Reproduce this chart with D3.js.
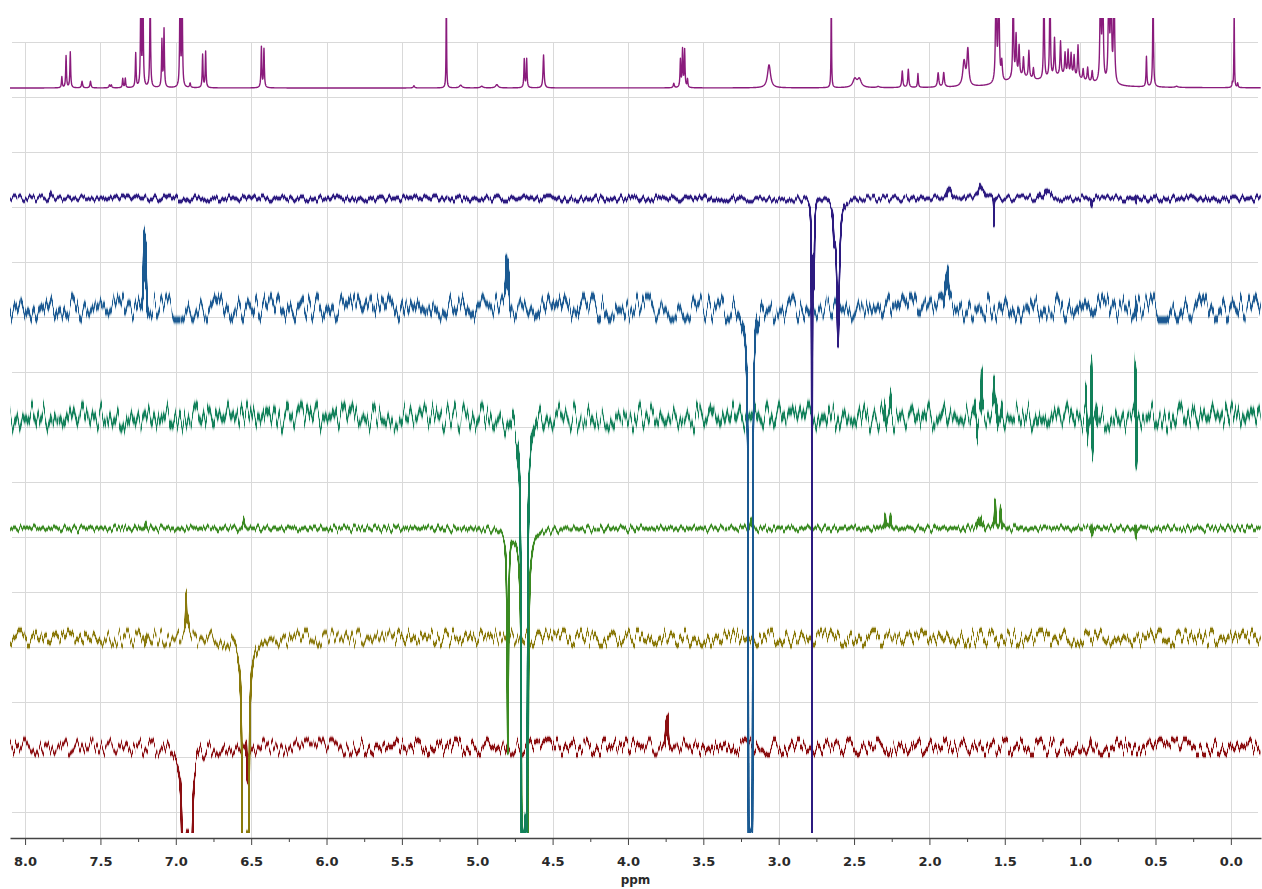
<!DOCTYPE html>
<html><head><meta charset="utf-8">
<script src="https://cdn.jsdelivr.net/npm/d3@7"></script>
<style>
html,body{margin:0;padding:0;background:#fff;}
svg{display:block;}
</style></head><body>
<svg id="chart" width="1262" height="889"></svg>
<script>
// ================= DATA =================
// x axis: chemical shift in ppm
const ppmTicks = [8.0,7.5,7.0,6.5,6.0,5.5,5.0,4.5,4.0,3.5,3.0,2.5,2.0,1.5,1.0,0.5,0.0];
const ppmMinorTicks = [7.75,7.25,6.75,6.25,5.75,5.25,4.75,4.25,3.75,3.25,2.75,2.25,1.75,1.25,0.75,0.25];
const axisTitle = "ppm";
// horizontal grid levels (intensity units, one unit = one grid step)
const rowLevels = [0,1,2,3,4,5,6,7,8,9,10,11,12,13,14];
// baseline offset of each stacked spectrum (top to bottom)
const baselines = [13.164, 11.155, 9.164, 7.173, 5.158, 3.164, 1.182];

// peak lists: [ppm, intensity, half-width (ppm)]
const peaks1H = [
  [7.756,0.20,0.003],[7.728,0.58,0.003],[7.700,0.65,0.003],
  [7.622,0.12,0.004],[7.566,0.12,0.004],[7.440,0.05,0.004],[7.428,0.05,0.004],
  [7.352,0.17,0.003],[7.335,0.17,0.003],
  [7.266,0.62,0.003],[7.232,1.8,0.003],[7.218,1.8,0.003],[7.170,1.8,0.003],
  [7.092,0.85,0.003],[7.078,1.05,0.003],
  [6.972,1.8,0.003],[6.958,1.8,0.003],[6.905,0.08,0.004],
  [6.822,0.60,0.003],[6.802,0.66,0.003],
  [6.432,0.74,0.003],[6.415,0.70,0.003],
  [5.420,0.04,0.005],[5.205,1.8,0.002],
  [5.110,0.05,0.010],[4.970,0.03,0.010],[4.870,0.06,0.010],
  [4.688,0.52,0.003],[4.672,0.52,0.003],[4.560,0.60,0.004],
  [3.696,0.08,0.004],[3.652,0.50,0.003],[3.638,0.68,0.003],[3.624,0.68,0.003],[3.605,0.15,0.003],
  [3.064,0.42,0.012],
  [2.651,1.8,0.002],
  [2.495,0.15,0.015],[2.465,0.15,0.015],[2.340,0.02,0.010],
  [2.180,0.30,0.004],[2.140,0.33,0.004],[2.076,0.25,0.003],
  [1.942,0.26,0.005],[1.905,0.26,0.005],
  [1.770,0.45,0.010],[1.745,0.65,0.007],
  [1.558,2.0,0.004],[1.540,2.0,0.004],[1.520,0.35,0.005],
  [1.444,2.0,0.003],[1.425,0.75,0.004],[1.405,0.55,0.004],[1.376,0.35,0.004],[1.340,0.50,0.004],[1.310,0.20,0.004],
  [1.240,2.0,0.003],[1.200,2.0,0.003],[1.170,0.70,0.004],[1.130,0.62,0.004],[1.100,0.40,0.004],
  [1.080,0.45,0.004],[1.060,0.40,0.004],[1.040,0.38,0.004],[1.014,0.60,0.004],
  [0.980,0.20,0.004],[0.950,0.25,0.004],[0.920,0.20,0.004],
  [0.865,2.0,0.004],[0.850,2.0,0.004],[0.810,2.0,0.004],[0.795,2.0,0.004],[0.775,2.0,0.004],
  [1.400,0.15,0.10],[1.100,0.20,0.15],
  [0.560,0.55,0.003],[0.516,1.8,0.003],[0.360,0.02,0.010],
  [-0.010,0.08,0.003],[-0.022,1.4,0.002],[-0.045,0.08,0.003]
];
const peaksSel278 = [
  [7.834,0.10,0.005],[2.779,-20,0.0012],[2.766,-1.5,0.004],[2.632,-0.6,0.006],[2.606,-2.6,0.010],
  [1.876,0.20,0.008],[1.860,0.12,0.008],[1.665,0.18,0.010],[1.640,0.12,0.010],[1.572,-0.5,0.0015],
  [1.270,0.10,0.010],[1.230,0.15,0.010],[1.200,0.08,0.010],[0.925,-0.12,0.002],[0.630,-0.12,0.002]
];
const peaksSel318 = [
  [7.212,1.25,0.003],[7.198,1.30,0.003],[4.808,0.68,0.003],[4.792,0.70,0.003],
  [3.196,-60,0.0015],[3.188,-10,0.006],[3.178,-60,0.0015],
  [1.895,0.42,0.004],[1.878,0.48,0.004],[0.630,0.28,0.002]
];
const peaksSel468 = [
  [4.703,-60,0.0015],[4.688,-10,0.008],[4.672,-60,0.0015],
  [2.294,0.35,0.003],[2.257,0.32,0.003],
  [1.697,0.20,0.003],[1.684,-0.30,0.002],[1.653,0.70,0.002],
  [1.571,0.45,0.003],[1.553,0.40,0.003],[1.520,0.25,0.003],
  [0.960,0.40,0.002],[0.953,-0.45,0.002],[0.925,1.10,0.0015],[0.918,-0.65,0.0015],[0.890,0.30,0.002],
  [0.632,1.05,0.0015],[0.626,-0.85,0.0015]
];
const peaksSel480 = [
  [7.200,0.12,0.004],[6.550,0.16,0.004],
  [4.797,-4.0,0.005],
  [4.700,-60,0.0015],[4.685,-10,0.008],[4.668,-60,0.0015],
  [3.185,0.15,0.004],
  [2.294,0.26,0.003],[2.258,0.25,0.003],
  [1.680,0.15,0.004],[1.660,0.20,0.004],[1.640,0.10,0.004],
  [1.564,0.52,0.004],[1.527,0.40,0.004],
  [0.925,0.12,0.0015],[0.918,-0.10,0.0015],[0.632,-0.18,0.0015],[0.626,0.06,0.0015]
];
const peaksSel655 = [
  [7.200,0.15,0.003],[6.932,0.70,0.003],[6.918,0.22,0.004],
  [6.553,-60,0.0015],[6.537,-8,0.008],[6.521,-60,0.0015],
  [4.797,0.36,0.003]
];
const peaksSel693 = [
  [6.950,-60,0.0015],[6.925,-8,0.008],[6.900,-60,0.0015],
  [6.532,0.25,0.0015],[6.526,-0.50,0.0015],
  [4.800,0.10,0.003],[3.747,0.45,0.003],[3.735,0.55,0.003],[0.930,0.12,0.003]
];
const spectra = [peaks1H, peaksSel278, peaksSel318, peaksSel468, peaksSel480, peaksSel655, peaksSel693];

// ================= STYLE =================
const colors = ["#8a1b7c","#2d1b80","#1b5a92","#13805a","#3b8a22","#8a7a0c","#8c0f12"];
// baseline noise texture (rendering effect): amplitude px, frequency, vertical blur, alpha gain
const noiseAmp  = [0, 3,    12,   13,   3.5,  8,   8];
const noiseFreq = [0, 0.3,  0.26, 0.26, 0.3,  0.3, 0.3];
const noiseBlur = [0, 1.0,  2.3,  2.4,  1.0,  1.6, 1.6];
const noiseGain = [0, 3.2,  6.2,  6.4,  3.2,  4,   4];
const W = 1262, H = 889;

// ================= SCALES =================
const x = d3.scaleLinear().domain([8.1, -0.2]).range([10, 1261]);
const y = d3.scaleLinear().domain([-0.5, 14.6]).range([839.5, 9]).clamp(true);

const svg = d3.select("#chart");
const defs = svg.append("defs");
defs.append("clipPath").attr("id","plotClip")
  .append("rect").attr("x",10).attr("y",18).attr("width",1252).attr("height",815);

noiseAmp.forEach((amp,i)=>{
  if(!amp) return;
  const f = defs.append("filter").attr("id","nz"+i)
    .attr("filterUnits","userSpaceOnUse").attr("x",0).attr("y",0).attr("width",W).attr("height",H)
    .attr("color-interpolation-filters","sRGB");
  f.append("feTurbulence").attr("type","fractalNoise").attr("baseFrequency",noiseFreq[i]+" 0.002")
    .attr("numOctaves",2).attr("seed",3+i*7).attr("result","t");
  f.append("feColorMatrix").attr("in","t").attr("type","matrix")
    .attr("values","0 0 0 0 0.5  0 2.4 0 0 -0.7  0 0 0 0 0  0 0 0 0 1").attr("result","m");
  f.append("feDisplacementMap").attr("in","SourceGraphic").attr("in2","m").attr("scale",amp*2)
    .attr("xChannelSelector","R").attr("yChannelSelector","G").attr("result","d");
  f.append("feGaussianBlur").attr("in","d").attr("stdDeviation","0 "+noiseBlur[i]).attr("result","b");
  const ct = f.append("feComponentTransfer").attr("in","b");
  ct.append("feFuncA").attr("type","linear").attr("slope",noiseGain[i]).attr("intercept",0);
});

// ================= GRID =================
const gridG = svg.append("g").attr("stroke","#d9d9d9").attr("stroke-width",1);
gridG.selectAll("line.h").data(rowLevels).join("line").attr("class","h")
  .attr("x1",12).attr("x2",1258)
  .attr("y1",d=>Math.round(y(d))+0.5).attr("y2",d=>Math.round(y(d))+0.5);
gridG.selectAll("line.v").data(ppmTicks).join("line").attr("class","v")
  .attr("x1",d=>Math.round(x(d))+0.5).attr("x2",d=>Math.round(x(d))+0.5)
  .attr("y1",y(14)).attr("y2",838);

// ================= SPECTRA =================
function samplePoints(peaks){
  const pts = d3.range(8.1, -0.2001, -0.002);
  peaks.forEach(([c,h,g])=>{[0,-0.5,0.5,-1,1,-2,2,-4,4].forEach(k=>pts.push(c+k*g));});
  return pts.filter(p=>p<=8.1&&p>=-0.2).sort((a,b)=>b-a);
}
function intensity(peaks,p){
  let s=0; for(const [c,h,g] of peaks){const u=(p-c)/g; s+=h/(1+u*u);} return s;
}
const plot = svg.append("g").attr("clip-path","url(#plotClip)");
const order = d3.range(spectra.length).reverse();
order.forEach(i=>{
  const peaks = spectra[i], base = baselines[i];
  const pts = samplePoints(peaks).map(p=>[p, base + intensity(peaks,p)]);
  const line = d3.line().x(d=>x(d[0])).y(d=>y(d[1]));
  const g = plot.append("g");
  if(noiseAmp[i]) g.attr("filter","url(#nz"+i+")");
  g.append("path").attr("d",line(pts)).attr("fill","none")
    .attr("stroke",colors[i]).attr("stroke-width",i===0?1.4:1.3).attr("stroke-linejoin","round");
});

// ================= AXIS =================
const axisG = svg.append("g").attr("transform","translate(0,838)")
  .call(d3.axisBottom(x).tickValues(ppmTicks).tickFormat(d3.format(".1f"))
        .tickSize(7).tickPadding(12).tickSizeOuter(0));
axisG.attr("font-family","'DejaVu Sans', Verdana, sans-serif").attr("font-size",13)
  .attr("font-weight","bold").attr("color","#444");
axisG.select(".domain").attr("stroke-width",1.3);
axisG.selectAll(".tick text").attr("fill","#2a2a2a");
const minorG = svg.append("g").attr("transform","translate(0,838)")
  .call(d3.axisBottom(x).tickValues(ppmMinorTicks).tickSize(4).tickFormat(""));
minorG.attr("color","#444");
minorG.select(".domain").remove();

svg.append("text").attr("x",(x.range()[0]+x.range()[1])/2).attr("y",884)
  .attr("text-anchor","middle").attr("font-family","'DejaVu Sans', Verdana, sans-serif")
  .attr("font-size",12).attr("font-weight","bold").attr("fill","#2a2a2a").text(axisTitle);
</script>
</body></html>
